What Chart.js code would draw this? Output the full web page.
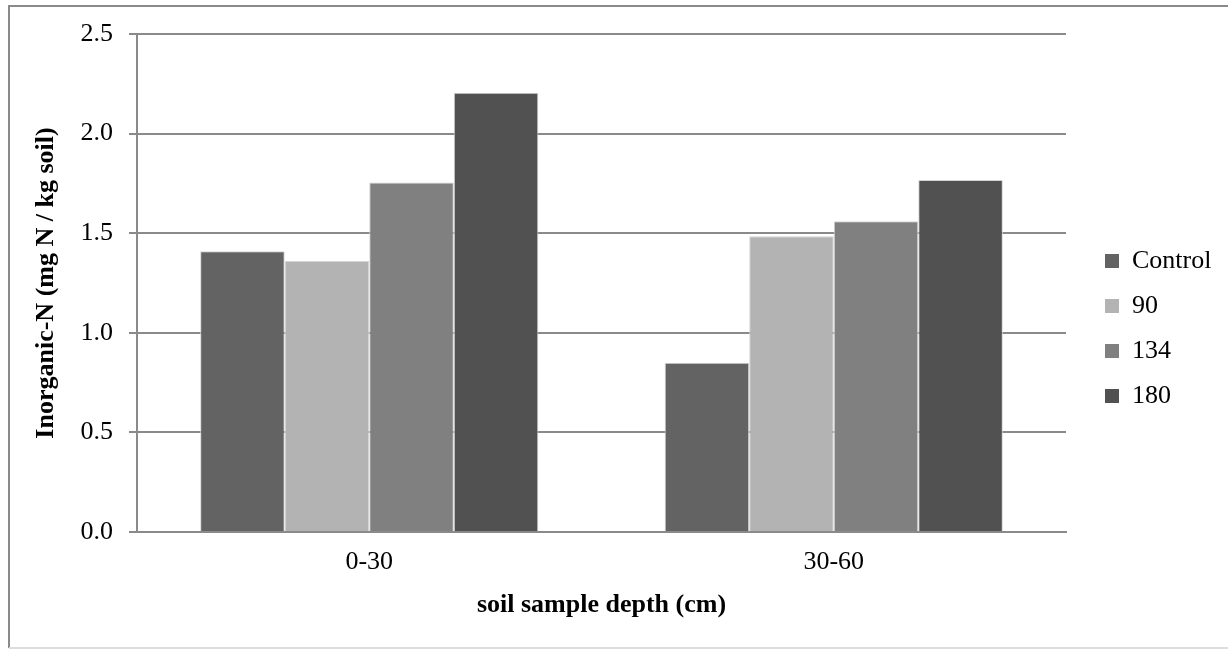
<!DOCTYPE html>
<html>
<head>
<meta charset="utf-8">
<script src="https://cdn.jsdelivr.net/npm/chart.js@4.4.1/dist/chart.umd.min.js"></script>
<style>
  body { margin: 0; background: #fff; }
  canvas { display: block; }
</style>
</head>
<body>
<canvas id="myChart" width="1228" height="649"></canvas>
<script>
const depths = ['0-30', '30-60'];
const control = [1.41, 0.85];
const n90 = [1.36, 1.485];
const n134 = [1.755, 1.56];
const n180 = [2.205, 1.767];

const serif = "'Liberation Serif', 'Times New Roman', serif";

// outer chart frame
const frame = {
  id: 'frame',
  beforeDraw(chart) {
    const c = chart.ctx;
    c.save();
    c.fillStyle = '#fff';
    c.fillRect(0, 0, chart.width, chart.height);
    c.strokeStyle = '#8a8a8a';
    c.lineWidth = 2;
    c.beginPath();
    c.moveTo(9, 648);
    c.lineTo(9, 6);
    c.lineTo(chart.width, 6);
    c.stroke();
    c.strokeStyle = '#dddddd';
    c.beginPath();
    c.moveTo(9, 648);
    c.lineTo(chart.width, 648);
    c.stroke();
    c.restore();
  }
};

// legend: fixed width so the plot ends where Excel's did, then centred on the whole chart
const legendPlace = {
  id: 'legendPlace',
  beforeLayout(chart) {
    const lg = chart.legend;
    if (lg && !lg._wrapped) {
      const fit = lg.fit;
      lg.fit = function () { fit.call(this); this.width = 162; };
      lg._wrapped = true;
    }
  },
  afterLayout(chart) {
    const lg = chart.legend;
    const dx = 1105 - 19 - lg.left;
    const dy = chart.height / 2 + 4 - (lg.top + lg.bottom) / 2;
    lg.left += dx; lg.right += dx;
    lg.top += dy; lg.bottom += dy;
  }
};

const ctx = document.getElementById('myChart');
new Chart(ctx, {
  type: 'bar',
  data: {
    labels: depths,
    datasets: [
      { label: 'Control', data: control, backgroundColor: '#636363' },
      { label: '90', data: n90, backgroundColor: '#b3b3b3' },
      { label: '134', data: n134, backgroundColor: '#808080' },
      { label: '180', data: n180, backgroundColor: '#515151' }
    ]
  },
  options: {
    responsive: false,
    animation: false,
    datasets: {
      bar: {
        categoryPercentage: 0.728,
        barPercentage: 1.0,
        borderWidth: 1,
        borderColor: '#d4d4d4'
      }
    },
    layout: { padding: { left: 10, top: 34, right: 0, bottom: 0 } },
    plugins: {
      tooltip: { enabled: false },
      legend: {
        position: 'right',
        labels: {
          boxWidth: 14,
          boxHeight: 14,
          padding: 19,
          color: '#000',
          font: { family: serif, size: 26 },
          generateLabels: chart => Chart.defaults.plugins.legend.labels.generateLabels(chart)
            .map(l => Object.assign(l, { lineWidth: 0 }))
        }
      }
    },
    scales: {
      x: {
        grid: { display: false, drawTicks: false },
        border: { color: '#8a8a8a', width: 2 },
        ticks: { padding: 15, color: '#000', font: { family: serif, size: 26 } },
        title: {
          display: true,
          text: 'soil sample depth (cm)',
          color: '#000',
          padding: { top: 10, bottom: 28 },
          font: { family: serif, size: 26, weight: 'bold' }
        },
        afterFit(scale) { scale.height = 117; }
      },
      y: {
        min: 0,
        max: 2.5,
        grid: { color: '#8a8a8a', lineWidth: 2, tickLength: 8 },
        border: { color: '#8a8a8a', width: 2 },
        ticks: {
          stepSize: 0.5,
          padding: 16,
          color: '#000',
          font: { family: serif, size: 26 },
          callback: v => v.toFixed(1)
        },
        title: {
          display: true,
          text: 'Inorganic-N (mg N / kg soil)',
          color: '#000',
          padding: { top: 21, bottom: 0 },
          font: { family: serif, size: 26, weight: 'bold' }
        },
        afterFit(scale) { scale.width = 127; }
      }
    }
  },
  plugins: [frame, legendPlace]
});
</script>
</body>
</html>
